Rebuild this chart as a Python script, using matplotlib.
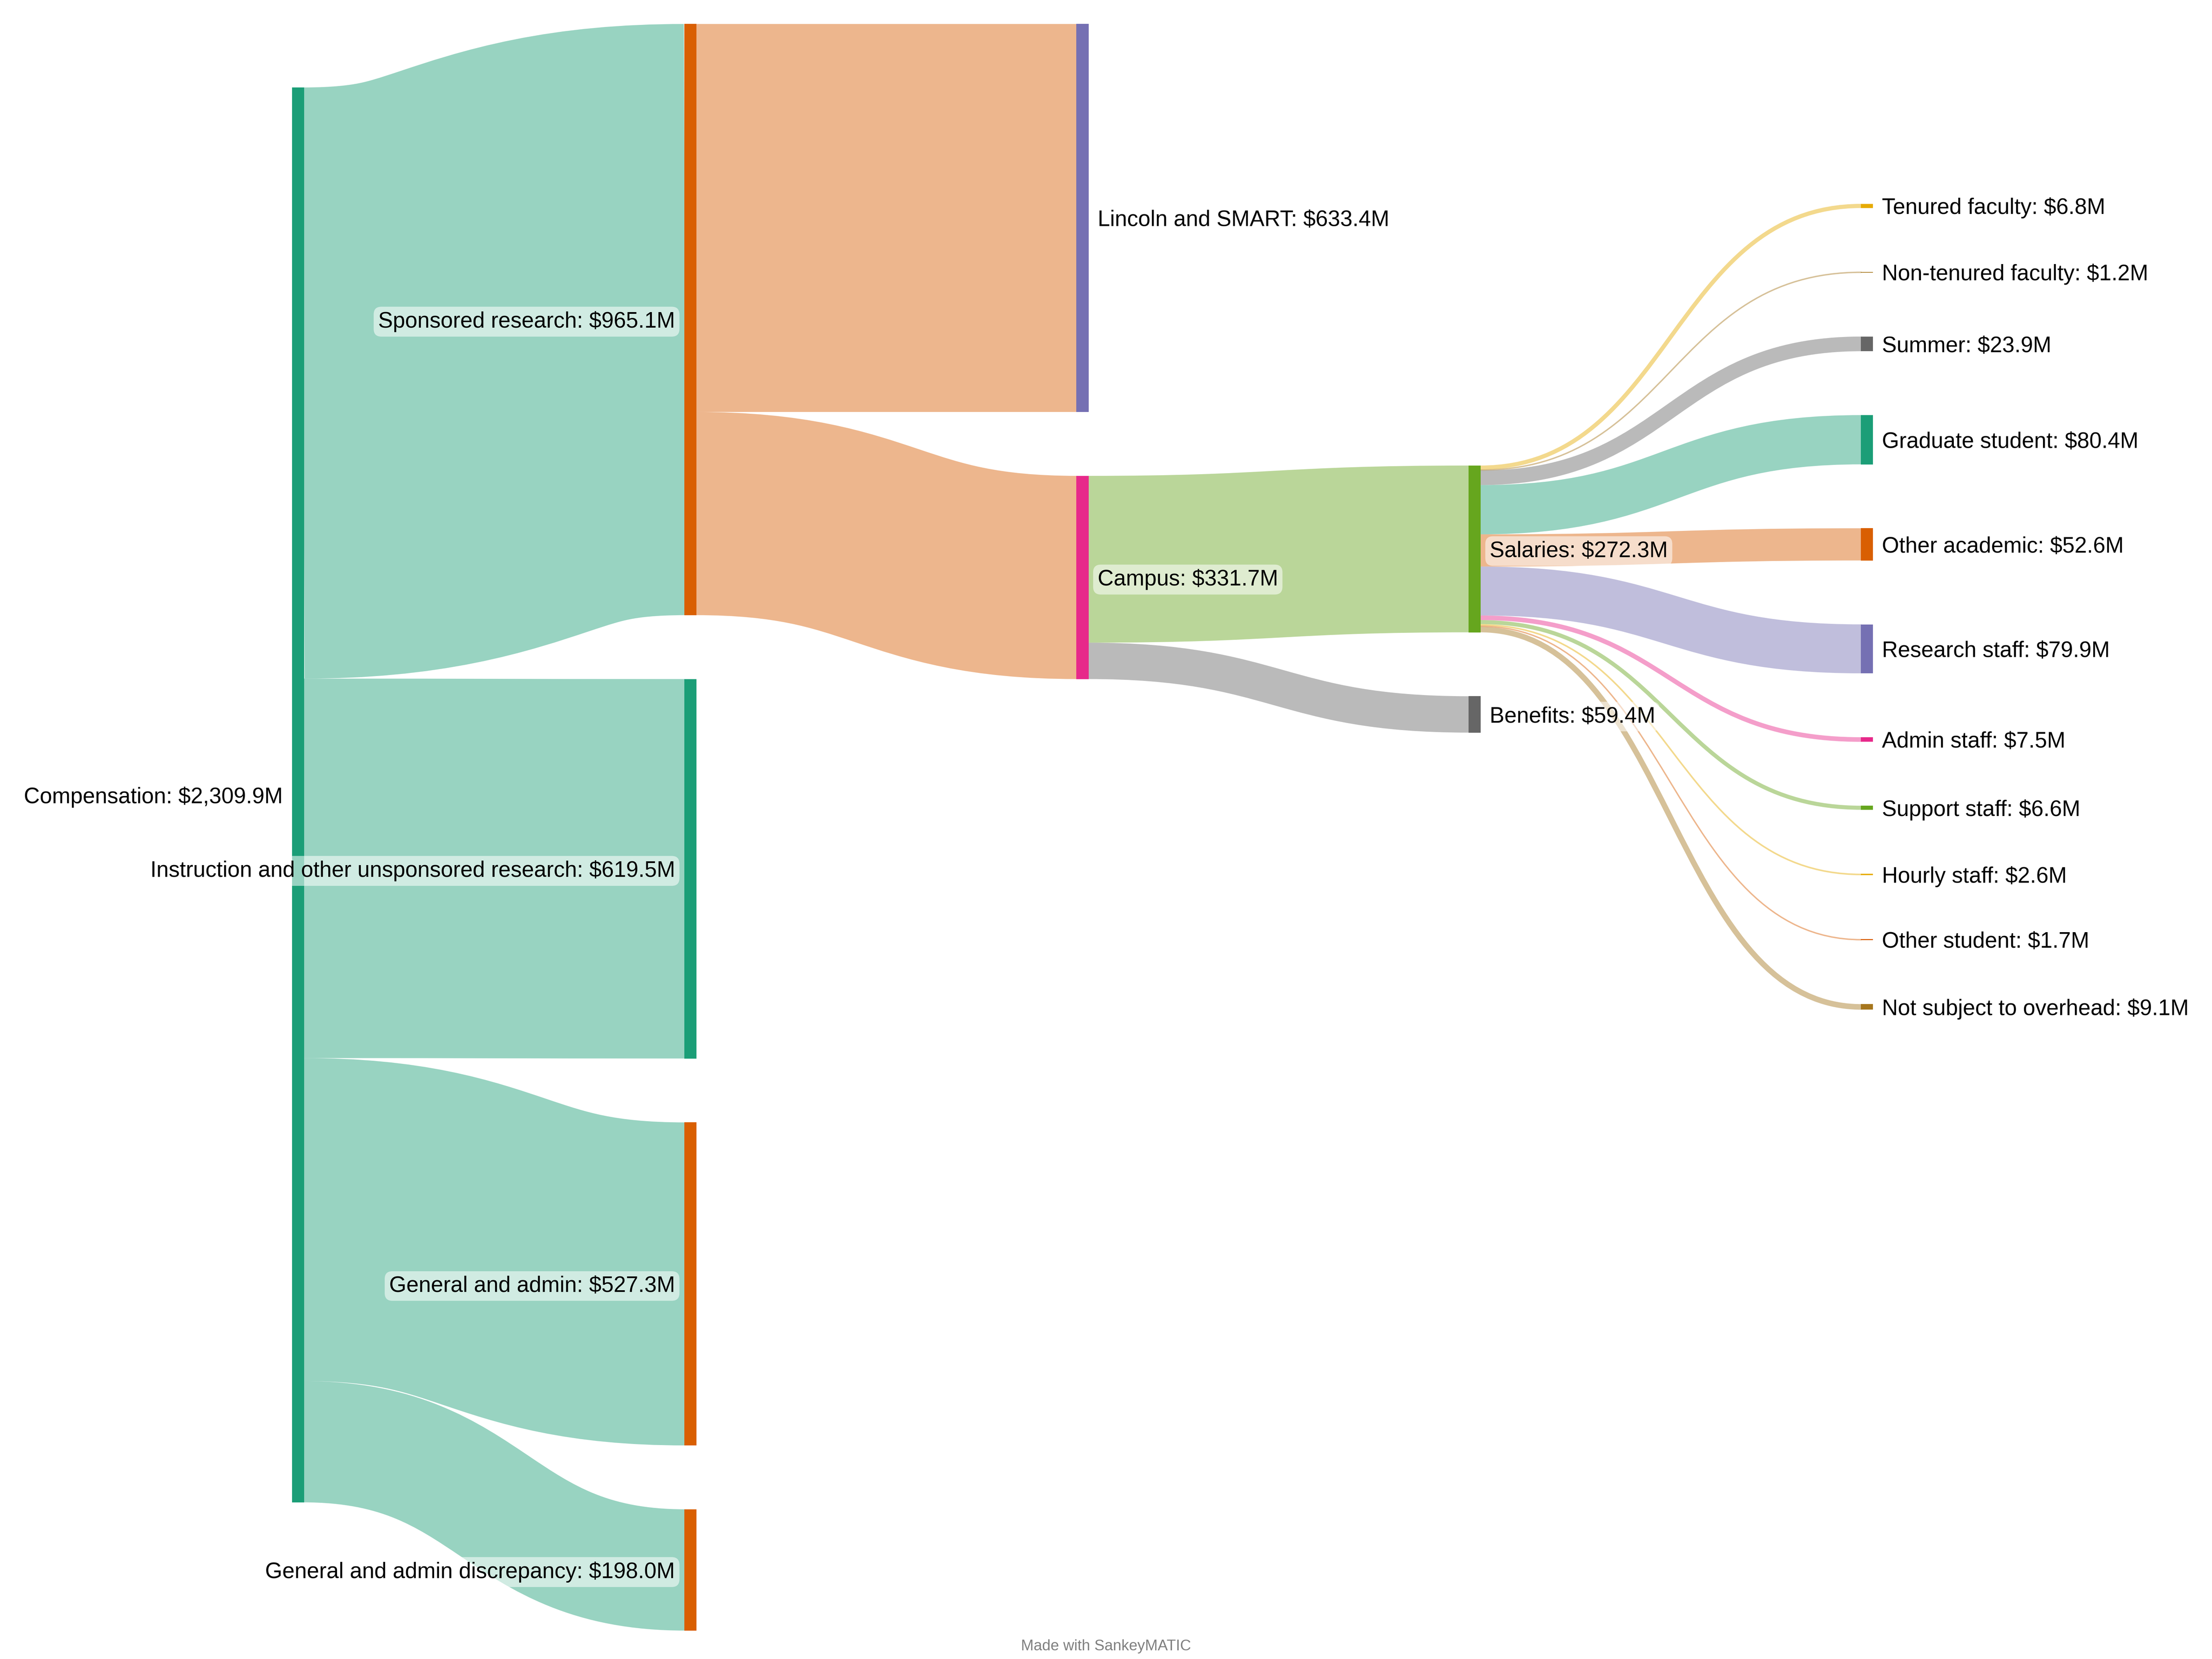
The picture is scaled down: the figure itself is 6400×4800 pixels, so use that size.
import matplotlib.pyplot as plt
from matplotlib.path import Path
from matplotlib.patches import PathPatch, Rectangle

# nodes of the diagram (order = top to bottom inside each column)
nodes = [
    "Compensation",
    "Sponsored research",
    "Instruction and other unsponsored research",
    "General and admin",
    "General and admin discrepancy",
    "Lincoln and SMART",
    "Campus",
    "Salaries",
    "Benefits",
    "Tenured faculty",
    "Non-tenured faculty",
    "Summer",
    "Graduate student",
    "Other academic",
    "Research staff",
    "Admin staff",
    "Support staff",
    "Hourly staff",
    "Other student",
    "Not subject to overhead",
]

# flows in $M
flow_src = ["Compensation"] * 4 + ["Sponsored research"] * 2 + ["Campus"] * 2 + ["Salaries"] * 11
flow_dst = [
    "Sponsored research", "Instruction and other unsponsored research",
    "General and admin", "General and admin discrepancy",
    "Lincoln and SMART", "Campus",
    "Salaries", "Benefits",
    "Tenured faculty", "Non-tenured faculty", "Summer", "Graduate student",
    "Other academic", "Research staff", "Admin staff", "Support staff",
    "Hourly staff", "Other student", "Not subject to overhead",
]
flow_values = [965.1, 619.5, 527.3, 198.0,
               633.4, 331.7,
               272.3, 59.4,
               6.8, 1.2, 23.9, 80.4, 52.6, 79.9, 7.5, 6.6, 2.6, 1.7, 9.1]

# colours (Dark2)
teal, orange, purple, pink = "#1b9e77", "#d95f02", "#7570b3", "#e7298a"
green, gold, brown, gray = "#66a61e", "#e6ab02", "#a6761d", "#666666"

node_colors = [teal, orange, teal, orange, orange, purple, pink, green, gray,
               gold, brown, gray, teal, orange, purple, pink, green, gold, orange, brown]
flow_colors = [teal, teal, teal, teal,
               orange, orange,
               green, gray,
               gold, brown, gray, teal, orange, purple, pink, green, gold, orange, brown]

# layout (in reference pixel units)
W, H = 1568, 1176
col_x = [207, 485, 763, 1041, 1319]
col_top = [62, 17, 17, 330, 144.5]
node_w = 8.7
gap = 45.3
k = 0.4342  # px per $M
pt_per_unit = 16 * 72 / W

plt.rcParams['font.family'] = ['Liberation Sans', 'DejaVu Sans']

# node values and depth
val_in = {n: 0.0 for n in nodes}
val_out = {n: 0.0 for n in nodes}
depth = {n: 0 for n in nodes}
for s, t, v in zip(flow_src, flow_dst, flow_values):
    val_out[s] += v
    val_in[t] += v
    depth[t] = depth[s] + 1
node_val = {n: max(val_in[n], val_out[n]) for n in nodes}

# stack nodes in each column
node_y = {}
col_cursor = list(col_top)
for n in nodes:
    c = depth[n]
    node_y[n] = col_cursor[c]
    col_cursor[c] += node_val[n] * k + gap

fig = plt.figure(figsize=(16, 12))
ax = fig.add_axes([0, 0, 1, 1])
ax.set_xlim(0, W)
ax.set_ylim(H, 0)
ax.axis('off')

# links
out_off = dict(node_y)
in_off = dict(node_y)
for s, t, v, col in zip(flow_src, flow_dst, flow_values, flow_colors):
    w = v * k
    y0 = out_off[s] + w / 2
    y1 = in_off[t] + w / 2
    out_off[s] += w
    in_off[t] += w
    x0 = col_x[depth[s]] + node_w - 0.5
    x1 = col_x[depth[t]] + 0.5
    xm = (x0 + x1) / 2
    path = Path([(x0, y0), (xm, y0), (xm, y1), (x1, y1)],
                [Path.MOVETO, Path.CURVE4, Path.CURVE4, Path.CURVE4])
    ax.add_patch(PathPatch(path, fill=False, edgecolor=col, alpha=0.45,
                           lw=max(w, 1.0) * pt_per_unit, capstyle='butt', zorder=1))

# nodes and labels
for n, col in zip(nodes, node_colors):
    c = depth[n]
    h = node_val[n] * k
    ax.add_patch(Rectangle((col_x[c], node_y[n]), node_w, h, facecolor=col,
                           edgecolor='none', zorder=2))
    label = f"{n}: ${node_val[n]:,.1f}M"
    yc = node_y[n] + h / 2 + 1.5
    if c <= 1:
        x, ha = col_x[c] - 6.5, 'right'
    else:
        x, ha = col_x[c] + node_w + 6.3, 'left'
    ax.text(x, yc, label, ha=ha, va='center', fontsize=11.5, color='black', zorder=3,
            bbox=dict(boxstyle='round,pad=0.2,rounding_size=0.35', fc='white',
                      ec='none', alpha=0.55))

ax.text(W / 2, 1167, "Made with SankeyMATIC", ha='center', va='center',
        fontsize=7.9, color='#808080')

fig.savefig("out.png", dpi=400, facecolor='white')
